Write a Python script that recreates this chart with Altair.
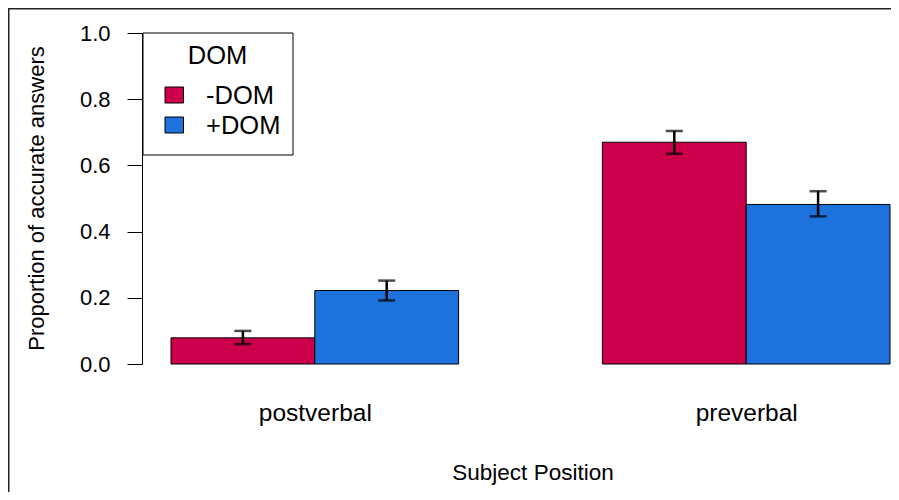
import altair as alt
import pandas as pd

# ---- data ----
groups = ["postverbal", "preverbal"]
dom_levels = ["-DOM", "+DOM"]
colors = ["#CC004A", "#1D72DE"]
means = [[0.079, 0.222], [0.670, 0.482]]
lows = [[0.060, 0.192], [0.635, 0.446]]
highs = [[0.100, 0.252], [0.704, 0.522]]
y_ticks = [0.0, 0.2, 0.4, 0.6, 0.8, 1.0]

# R barplot(beside=TRUE) layout: space = c(0, 1), bar width 1
rows = []
for gi, g in enumerate(groups):
    for di, d in enumerate(dom_levels):
        x0 = 1 + 3 * gi + di
        rows.append({
            "group": g, "DOM": d, "x0": x0, "x1": x0 + 1, "xc": x0 + 0.5,
            "mean": means[gi][di], "lo": lows[gi][di], "hi": highs[gi][di],
        })
df = pd.DataFrame(rows)
centers = [2 + 3 * gi for gi in range(len(groups))]
label_expr = " : ".join(
    [f"datum.value == {c} ? '{g}'" for c, g in zip(centers, groups)] + ["''"]
)

FONT = "Liberation Sans"
W, H = 749, 331
UNIT = 143.8
xlo = 1 - 29 / UNIT
xscale = alt.Scale(domain=[xlo, xlo + W / UNIT], nice=False, zero=False)
yscale = alt.Scale(domain=[0, 1], nice=False)
cscale = alt.Scale(domain=dom_levels, range=colors)

base = alt.Chart(df)

bars = base.mark_rect(stroke="black", strokeWidth=1).encode(
    x=alt.X("x0:Q", scale=xscale,
            axis=alt.Axis(values=centers, labelExpr=label_expr, domain=False,
                          ticks=False, tickSize=0, grid=False, labelFont=FONT,
                          labelFontSize=24.5, labelColor="black",
                          labelBaseline="alphabetic", labelPadding=56,
                          title="Subject Position", titleFont=FONT,
                          titleFontSize=22.5, titleFontWeight="normal",
                          titleColor="black", titleX=390.5, titleY=115.5,
                          titleBaseline="alphabetic")),
    x2="x1:Q",
    y=alt.Y("mean:Q", scale=yscale,
            axis=alt.Axis(values=y_ticks, format=".1f", grid=False,
                          domainColor="black", domainWidth=1, tickColor="black",
                          tickSize=15, tickWidth=1, labelFont=FONT,
                          labelFontSize=22, labelColor="black", labelPadding=17,
                          title="Proportion of accurate answers", titleFont=FONT,
                          titleFontSize=22, titleFontWeight="normal",
                          titleColor="black", titleAngle=270, titleX=-99,
                          titleY=165, titleBaseline="alphabetic")),
    y2=alt.datum(0),
    color=alt.Color("DOM:N", scale=cscale, legend=None),
)

err = base.mark_rule(color="black", strokeWidth=2.5).encode(
    x="xc:Q", y="lo:Q", y2="hi:Q"
)
cap_lo = base.mark_tick(color="black", orient="horizontal", size=17,
                        thickness=2.5).encode(x="xc:Q", y="lo:Q")
cap_hi = base.mark_tick(color="black", orient="horizontal", size=17,
                        thickness=2.5).encode(x="xc:Q", y="hi:Q")

one = alt.Data(values=[{"a": 1}])
layers = [bars, err, cap_lo, cap_hi]

# outer figure frame (only left and top edges are visible)
layers.append(alt.Chart(one).mark_rule(color="#222", strokeWidth=1.5).encode(
    x=alt.value(-133.25), y=alt.value(-24.5), y2=alt.value(H + 128)))
layers.append(alt.Chart(one).mark_rule(color="#222", strokeWidth=1.5).encode(
    x=alt.value(-134), x2=alt.value(W), y=alt.value(-24.25)))

# legend box (R legend("topleft"))
layers.append(alt.Chart(one).mark_rect(fill="white", stroke="black",
                                       strokeWidth=1).encode(
    x=alt.value(1), x2=alt.value(151), y=alt.value(0), y2=alt.value(122)))
layers.append(alt.Chart(one).mark_text(font=FONT, fontSize=25.5, color="black",
                                       align="center", baseline="alphabetic").encode(
    x=alt.value(75.5), y=alt.value(31), text=alt.value("DOM")))
for i, (lvl, col) in enumerate(zip(dom_levels, colors)):
    d = alt.Data(values=[{"DOM": lvl}])
    yc = 62 + 30 * i
    layers.append(alt.Chart(d).mark_rect(stroke="black", strokeWidth=1).encode(
        x=alt.value(23), x2=alt.value(41.5), y=alt.value(yc - 8), y2=alt.value(yc + 8),
        color=alt.Color("DOM:N", scale=cscale, legend=None)))
    layers.append(alt.Chart(d).mark_text(font=FONT, fontSize=25.5, color="black",
                                         align="left", baseline="alphabetic").encode(
        x=alt.value(64), y=alt.value(yc + 9), text="DOM:N"))

chart = alt.layer(*layers).properties(
    width=W, height=H,
    autosize=alt.AutoSizeParams(type="none"),
    padding={"left": 134, "top": 25, "right": 0, "bottom": 128},
).configure_view(stroke=None)

chart.save("out.html", embed_options={"renderer": "svg", "actions": False})
